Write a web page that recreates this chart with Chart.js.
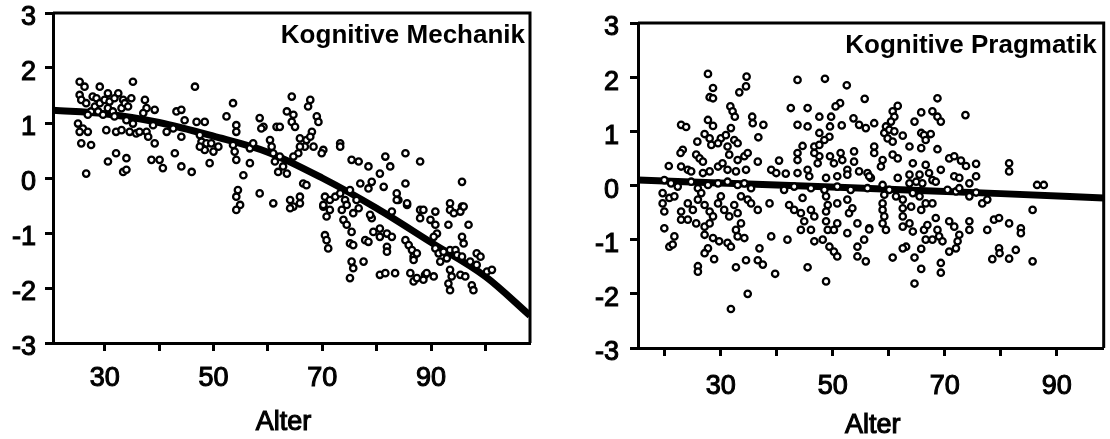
<!DOCTYPE html>
<html>
<head>
<meta charset="utf-8">
<script src="https://cdn.jsdelivr.net/npm/chart.js@4.4.1/dist/chart.umd.min.js"></script>
<style>
  html, body { margin: 0; padding: 0; background: #fff; }
  #wrap { position: relative; width: 1110px; height: 439px; overflow: hidden; }
  canvas { position: absolute; top: 0; }
</style>
</head>
<body>
<div id="wrap">
  <canvas id="mech" width="545" height="439" style="left:0px"></canvas>
  <canvas id="prag" width="550" height="439" style="left:560px"></canvas>
</div>
<script>
// ---- data ----
const yTicks = [-3, -2, -1, 0, 1, 2, 3];
const xTickLabels = [30, 50, 70, 90];
const mechXTicks = [30, 40, 50, 60, 70, 80, 90, 100];
const pragXTicks = [20, 30, 40, 50, 60, 70, 80, 90];

// Kognitive Mechanik
const mechAge = [
  25.4,26.3,25.4,25.7,26.6,25.1,26.0,25.4,26.9,25.7,27.5,26.6,27.5,26.9,28.2,29.1,27.8,28.5,29.1,30.0,
  30.6,30.9,28.8,29.7,30.6,31.5,31.8,32.5,31.8,33.4,33.1,33.7,34.0,30.3,32.1,33.1,34.6,35.2,34.9,34.3,
  35.2,35.8,36.4,37.4,37.7,37.1,37.7,38.0,39.2,38.9,39.2,30.6,32.1,34.0,33.4,34.0,38.6,40.1,40.7,41.4,
  42.9,43.2,44.1,42.6,44.1,44.7,44.1,46.0,46.6,46.9,47.5,47.8,48.4,48.4,48.7,49.6,50.0,49.3,50.9,47.5,
  52.4,53.6,54.2,54.2,53.6,53.9,54.2,56.7,55.5,54.5,54.2,54.9,54.2,58.5,61.0,58.5,59.2,58.8,60.4,60.7,
  61.6,61.0,61.3,61.9,56.7,57.3,
  64.4,67.8,67.4,69.0,69.3,63.5,64.7,64.4,65.0,62.2,65.9,67.1,66.8,68.4,65.9,68.1,67.8,73.3,73.3,75.4,
  76.7,78.5,81.6,85.3,88.0,82.5,80.6,79.1,78.5,77.0,75.1,81.3,85.3,95.7,70.2,69.9,65.6,64.7,62.2,62.8,
  63.5,66.5,67.1,64.1,65.9,70.5,71.4,72.4,73.3,74.2,74.5,76.3,76.7,70.2,73.6,83.7,84.0,85.6,88.0,93.5,
  95.7,82.8,75.7,
  64.7,70.2,71.4,70.8,73.9,74.5,75.4,75.1,75.7,77.9,78.5,79.4,80.6,79.1,78.8,80.6,81.9,81.9,81.9,82.8,
  85.3,85.9,86.5,86.8,86.8,87.4,88.0,89.9,90.8,91.1,90.5,93.2,94.2,95.4,96.9,95.7,96.0,90.8,91.4,92.3,
  92.9,91.7,93.5,94.5,94.8,95.7,97.2,98.4,99.1,93.5,93.8,95.4,96.3,97.5,97.8,93.2,93.5,75.4,75.7,77.6,
  75.1,80.6,81.6,83.4,86.2,86.8,87.4,88.9,89.2,90.5,88.6,70.5,70.8,71.1,100.3,101.2,98.4,83.7,85.6,88.6,
  90.8,93.5,96.0,64.1,65.9
];
const mechScore = [
  1.75,1.66,1.51,1.42,1.36,0.99,0.90,0.84,0.84,0.63,0.60,0.08,1.21,1.15,1.30,1.66,1.48,1.45,1.36,1.42,
  1.54,1.39,1.21,1.15,1.27,1.21,1.12,1.54,1.45,1.42,1.27,1.36,1.05,0.87,0.84,0.87,0.84,1.75,1.45,1.30,
  0.99,0.81,0.84,1.42,1.27,1.18,0.84,0.75,1.24,0.96,0.63,0.30,0.45,0.36,0.11,0.15,0.33,0.33,0.18,0.84,
  0.45,1.21,1.24,0.90,0.75,1.05,0.21,0.11,1.66,1.02,0.78,0.66,1.02,0.51,0.63,0.63,0.48,0.27,0.57,0.57,
  1.12,1.36,0.96,0.84,0.60,0.48,0.33,0.27,0.05,-0.22,-0.34,-0.49,-0.58,-0.28,-0.46,1.09,0.93,0.90,0.69,0.57,
  0.93,0.45,0.30,0.11,0.54,0.63,
  1.48,1.42,1.30,1.12,1.02,1.21,1.15,1.02,0.93,0.93,0.72,0.69,0.57,0.57,0.57,0.84,0.75,0.63,0.57,0.33,
  0.30,0.21,0.39,0.45,0.30,0.21,0.08,-0.07,-0.19,-0.10,-0.22,-0.16,-0.10,-0.07,0.51,0.45,0.45,0.39,0.39,0.21,
  0.08,-0.10,-0.13,-0.40,-0.34,-0.34,-0.40,-0.34,-0.28,-0.40,-0.49,-0.40,-0.55,-0.52,-0.58,-0.28,-0.40,-0.49,-0.58,-0.58,
  -0.52,-0.61,-0.64,
  -0.52,-0.49,-0.58,-0.70,-0.76,-0.85,-0.98,-1.19,-1.22,-1.13,-1.16,-0.98,-0.92,-0.73,-0.67,-1.07,-1.01,-1.25,-1.34,-1.07,
  -1.13,-1.22,-1.31,-1.43,-1.49,-1.37,-0.73,-0.76,-0.85,-1.01,-1.07,-0.85,-0.64,-0.61,-0.85,-1.07,-1.19,-1.28,-1.37,-1.34,
  -1.46,-1.52,-1.31,-1.31,-1.40,-1.43,-1.52,-1.37,-1.43,-1.67,-1.79,-1.76,-1.79,-1.95,-2.04,-1.92,-2.04,-1.52,-1.64,-1.52,
  -1.82,-1.76,-1.73,-1.73,-1.73,-1.88,-1.82,-1.76,-1.73,-1.79,-1.85,-1.04,-1.13,-1.28,-1.70,-1.67,-1.58,-0.40,-0.46,-0.58,
  -0.61,-0.46,-0.52,-0.55,-0.46
];
const mechFitAge = [20.5, 30, 40, 50, 60, 70, 80, 90, 100, 108.2];
const mechFitScore = [1.23, 1.17, 1.01, 0.76, 0.47, 0.0, -0.55, -1.17, -1.79, -2.5];

// Kognitive Pragmatik
const pragAge = [
  27.7,34.6,34.5,33.3,28.6,28.0,28.6,43.7,48.6,52.5,55.7,42.5,45.5,51.3,50.5,31.7,32.1,32.5,35.6,35.7,
  37.6,22.9,23.8,27.7,28.6,31.8,47.6,49.7,43.7,45.5,49.5,51.6,53.7,54.7,55.9,36.7,27.1,28.0,30.0,30.9,
  29.5,28.3,31.2,32.4,33.0,25.8,47.6,49.4,48.5,44.6,46.7,47.6,23.2,22.8,25.6,26.2,26.8,31.5,33.0,34.2,
  34.8,36.6,40.4,43.7,43.7,47.6,47.3,46.7,49.5,50.2,51.4,51.7,53.8,53.8,20.7,22.9,24.1,24.7,26.8,28.0,
  29.5,30.3,31.2,32.7,34.5,39.0,39.9,41.6,43.7,45.5,45.8,52.6,52.6,54.7,56.2,56.8,48.8,50.8,19.9,21.1,
  22.3,24.7,25.9,27.7,29.5,31.2,33.0,34.2,35.4,41.3,43.1,46.1,48.5,50.8,53.2,56.2,19.6,20.8,21.7,19.6,
  19.9,22.9,22.9,24.1,25.0,25.9,26.5,27.1,28.0,28.6,29.5,30.0,30.6,31.5,32.4,33.0,33.6,34.8,35.4,36.6,
  38.7,42.2,43.1,44.3,44.9,46.1,46.7,44.6,48.8,49.1,48.8,50.8,52.6,52.9,53.5,19.9,21.7,20.8,21.4,24.1,
  25.6,27.1,28.0,27.1,28.6,29.7,31.2,33.0,34.2,32.7,33.6,39.0,41.9,44.3,46.1,48.8,49.1,50.2,50.8,52.6,
  54.4,56.5,55.6,54.4,46.7,48.2,49.4,50.2,50.8,27.7,27.1,28.8,31.8,36.9,34.5,36.6,37.5,32.7,25.9,25.9,
  39.7,45.5,48.8,54.4,55.9,34.8,31.8,
  68.7,61.6,60.7,61.0,60.4,57.4,65.8,67.8,68.7,69.3,64.6,73.7,59.5,59.2,60.1,61.0,62.5,59.8,60.7,65.8,
  66.3,67.5,66.6,63.7,65.8,68.7,57.4,57.4,60.7,61.6,58.9,58.6,64.3,66.6,70.8,71.7,72.9,73.8,75.6,81.5,
  81.5,69.3,75.6,61.6,63.7,65.5,67.2,67.8,63.7,64.9,66.0,68.4,71.7,72.6,74.4,86.5,87.7,58.9,60.1,59.2,
  61.3,62.5,64.3,65.5,66.6,67.8,64.0,65.8,70.5,72.0,72.6,74.4,75.6,76.7,77.6,58.9,58.9,59.2,58.9,59.5,
  62.5,62.5,62.5,63.7,64.3,66.3,66.9,68.4,68.7,69.0,67.8,66.6,69.6,70.8,71.7,72.6,72.3,72.0,70.8,74.4,
  74.4,77.6,78.8,79.7,81.5,83.6,83.6,85.7,63.1,62.5,65.8,60.7,64.6,65.8,69.3,69.3,64.6,79.7,79.8,78.5,
  81.5,82.7,85.7,56.5,56.5
];
const pragScore = [
  2.06,2.01,1.83,1.72,1.80,1.63,1.61,1.95,1.97,1.85,1.60,1.43,1.43,1.52,1.46,1.46,1.37,1.27,1.27,1.15,
  1.12,1.12,1.08,1.21,1.10,1.06,1.27,1.27,1.12,1.09,1.09,1.11,1.24,1.12,1.06,0.89,0.95,0.87,0.87,0.93,
  0.78,0.75,0.72,0.84,0.78,0.81,0.97,0.90,0.84,0.73,0.72,0.75,0.66,0.60,0.57,0.50,0.44,0.57,0.47,0.54,
  0.60,0.44,0.46,0.60,0.47,0.54,0.41,0.60,0.54,0.41,0.60,0.47,0.63,0.44,0.36,0.35,0.29,0.26,0.23,0.26,
  0.35,0.41,0.29,0.26,0.29,0.29,0.23,0.22,0.23,0.29,0.17,0.29,0.20,0.26,0.23,0.14,0.14,0.17,0.10,0.04,
  -0.02,0.07,-0.05,0.01,0.04,0.07,0.01,0.04,-0.05,-0.08,-0.02,-0.05,-0.08,-0.02,-0.08,-0.05,-0.14,-0.23,-0.20,-0.33,
  -0.48,-0.48,-0.63,-0.33,-0.45,-0.26,-0.14,-0.36,-0.48,-0.57,-0.33,-0.20,-0.45,-0.57,-0.36,-0.51,-0.20,-0.26,-0.33,-0.45,
  -0.33,-0.36,-0.45,-0.51,-0.66,-0.45,-0.57,-0.23,-0.20,-0.36,-0.48,-0.33,-0.26,-0.51,-0.42,-0.79,-0.94,-1.13,-1.09,-0.63,
  -0.70,-0.76,-0.70,-0.91,-0.97,-1.03,-1.06,-0.94,-0.97,-0.82,-0.70,-0.94,-1.00,-0.82,-0.82,-0.66,-0.82,-0.82,-0.70,-0.88,
  -0.70,-0.79,-1.00,-1.13,-1.03,-1.00,-1.13,-1.22,-1.31,-1.16,-1.25,-1.36,-1.13,-1.16,-1.38,-1.38,-1.46,-1.51,-1.49,-1.59,
  -1.63,-1.51,-1.77,-1.31,-1.40,-2.00,-2.28,
  1.61,1.47,1.37,1.27,1.18,1.15,1.35,1.37,1.27,1.18,1.18,1.30,1.09,0.97,1.03,1.00,0.92,0.87,0.81,0.97,
  0.93,0.95,0.84,0.72,0.69,0.67,0.72,0.60,0.57,0.50,0.47,0.35,0.41,0.38,0.50,0.54,0.46,0.36,0.40,0.41,
  0.26,0.29,0.17,0.14,0.20,0.20,0.23,0.10,0.04,0.07,0.04,0.07,0.17,0.14,0.04,0.01,0.01,0.01,-0.08,-0.17,
  -0.20,-0.26,-0.14,-0.20,-0.33,-0.33,-0.39,-0.45,-0.08,-0.11,-0.05,-0.20,-0.13,-0.33,-0.26,-0.33,-0.45,-0.57,-0.70,-0.82,
  -0.42,-0.57,-0.76,-0.70,-0.85,-0.82,-0.73,-0.60,-0.82,-0.94,-1.00,-1.00,-1.03,-0.66,-0.76,-0.91,-1.03,-1.16,-1.22,-0.66,
  -0.82,-0.82,-0.63,-0.60,-0.70,-0.79,-0.88,-0.45,-1.13,-1.16,-1.17,-1.33,-1.33,-1.54,-1.43,-1.61,-1.81,-1.16,-1.25,-1.36,
  -1.35,-1.19,-1.40,0.17,-0.81
];
const pragFitAge = [15.2, 40, 60, 80, 98.4];
const pragFitScore = [0.10, 0.01, -0.07, -0.15, -0.23];

// ---- drawing ----
const FONT = '"Liberation Sans", Arial, Helvetica, sans-serif';

// frame on top/right, the panel label in the top-right corner and the x title
const panelFrame = {
  id: 'panelFrame',
  afterDatasetsDraw(chart, args, opts) {
    const { ctx, chartArea: a } = chart;
    ctx.save();
    ctx.strokeStyle = '#000';
    ctx.lineWidth = 3;
    ctx.beginPath();
    ctx.moveTo(a.left, a.top);
    ctx.lineTo(a.right, a.top);
    ctx.lineTo(a.right, a.bottom);
    ctx.stroke();
    ctx.fillStyle = '#000';
    ctx.font = 'bold 26px ' + FONT;
    ctx.textAlign = 'right';
    ctx.textBaseline = 'alphabetic';
    ctx.fillText(opts.text, a.right - opts.dx, a.top + opts.dy);
    // axis title, a bit heavier like the scanned original
    ctx.font = '27px ' + FONT;
    ctx.textAlign = 'center';
    ctx.lineWidth = 1.1;
    const tx = (a.left + a.right) / 2 + opts.axisDx;
    const ty = a.bottom + opts.axisDy;
    ctx.fillText('Alter', tx, ty);
    ctx.strokeText('Alter', tx, ty);
    ctx.restore();
  }
};

function pairs(xs, ys) {
  return xs.map((x, i) => ({ x: x, y: ys[i] }));
}

function panel(id, cfg) {
  return new Chart(document.getElementById(id), {
    type: 'scatter',
    data: {
      datasets: [
        {
          data: pairs(cfg.ages, cfg.scores),
          pointRadius: 3.2,
          pointBorderWidth: 2.3,
          pointBackgroundColor: '#fff',
          pointBorderColor: '#000',
          order: 0
        },
        {
          type: 'line',
          data: pairs(cfg.fitAges, cfg.fitScores),
          borderColor: '#000',
          borderWidth: 7,
          pointRadius: 0,
          fill: false,
          tension: 0.4,
          cubicInterpolationMode: 'monotone',
          order: 1
        }
      ]
    },
    options: {
      responsive: false,
      animation: false,
      events: [],
      layout: { padding: { left: 0, top: cfg.top, right: cfg.right, bottom: 0 } },
      plugins: {
        legend: { display: false },
        tooltip: { enabled: false },
        panelFrame: { text: cfg.title, dx: cfg.titleDx, dy: 30, axisDx: cfg.axisDx, axisDy: cfg.axisDy }
      },
      scales: {
        x: {
          type: 'linear',
          min: cfg.xMin,
          max: cfg.xMax,
          afterBuildTicks: (s) => { s.ticks = cfg.xTicks.map(v => ({ value: v })); },
          afterFit: (s) => {
            s.height = cfg.xAxisH;
            s.paddingLeft = 0; s.paddingRight = 0;
          },
          grid: { drawOnChartArea: false, drawTicks: true, tickLength: 8, tickWidth: 3, tickColor: '#000', color: '#000' },
          border: { display: true, color: '#000', width: 3 },
          ticks: {
            autoSkip: false, maxRotation: 0, padding: cfg.xPad, color: '#000',
            textStrokeColor: '#000', textStrokeWidth: 1.1,
            font: { family: FONT, size: 27 },
            callback: (v) => xTickLabels.includes(v) ? String(v) : ''
          }
        },
        y: {
          type: 'linear',
          min: -3,
          max: 3,
          afterBuildTicks: (s) => { s.ticks = yTicks.map(v => ({ value: v })); },
          afterFit: (s) => {
            s.width = cfg.yAxisW;
            s.paddingTop = 0; s.paddingBottom = 0;
          },
          grid: { drawOnChartArea: false, drawTicks: true, tickLength: 8, tickWidth: 3, tickColor: '#000', color: '#000' },
          border: { display: true, color: '#000', width: 3 },
          ticks: {
            padding: cfg.yPad, labelOffset: 5, color: '#000',
            textStrokeColor: '#000', textStrokeWidth: 1.1,
            font: { family: FONT, size: 27 },
            callback: (v) => String(v)
          }
        }
      }
    },
    plugins: [panelFrame]
  });
}

panel('mech', {
  ages: mechAge, scores: mechScore, fitAges: mechFitAge, fitScores: mechFitScore,
  title: 'Kognitive Mechanik', titleDx: 5,
  xMin: 20.5, xMax: 108.2, xTicks: mechXTicks,
  top: 13, right: 15, yAxisW: 53, xAxisH: 96, xPad: 11, yPad: 9,
  axisDx: -8, axisDy: 87
});

panel('prag', {
  ages: pragAge, scores: pragScore, fitAges: pragFitAge, fitScores: pragFitScore,
  title: 'Kognitive Pragmatik', titleDx: 7,
  xMin: 15.2, xMax: 98.4, xTicks: pragXTicks,
  top: 23, right: 5, yAxisW: 78, xAxisH: 91, xPad: 14, yPad: 11,
  axisDx: 2, axisDy: 85
});
</script>
</body>
</html>
